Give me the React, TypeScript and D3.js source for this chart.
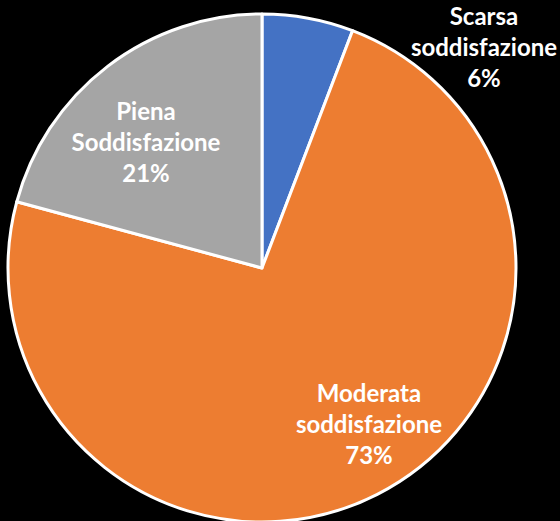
import { useRef, useEffect } from 'react';
import * as d3 from 'd3';

// slice data, clockwise from 12 o'clock
const categories = ['Scarsa soddisfazione', 'Moderata soddisfazione', 'Piena Soddisfazione'];
const labelLines = [
  ['Scarsa', 'soddisfazione'],
  ['Moderata', 'soddisfazione'],
  ['Piena', 'Soddisfazione'],
];
const values = [5.8, 73.4, 20.8];
const colors = ['#4472C4', '#ED7D31', '#A5A5A5'];

export default function App() {
  const svgRef = useRef<SVGSVGElement>(null);

  useEffect(() => {
    if (!svgRef.current) return;
    document.body.style.margin = '0';
    d3.select(svgRef.current).selectAll('*').remove();

    const width = 560;
    const height = 521;
    const cx = 262;
    const cy = 268;
    const radius = 254;

    const svg = d3.select(svgRef.current)
      .attr('width', width)
      .attr('height', height);

    svg.append('rect')
      .attr('width', width)
      .attr('height', height)
      .attr('fill', '#000000');

    const g = svg.append('g').attr('transform', `translate(${cx},${cy})`);

    const pie = d3.pie<number>().sort(null).value(d => d);
    const arcs = pie(values);
    const arc = d3.arc<d3.PieArcDatum<number>>().innerRadius(0).outerRadius(radius);

    g.selectAll('path.slice')
      .data(arcs)
      .enter()
      .append('path')
      .attr('class', 'slice')
      .attr('d', arc)
      .attr('fill', (_, i) => colors[i])
      .attr('stroke', '#ffffff')
      .attr('stroke-width', 3)
      .attr('stroke-linejoin', 'round');

    // label anchor points (first baseline of each block)
    const labelPos = [
      { x: 484, y: 25 },
      { x: 369, y: 402 },
      { x: 146, y: 120 },
    ];
    const lineGap = 31;

    categories.forEach((_, i) => {
      const t = svg.append('text')
        .attr('text-anchor', 'middle')
        .attr('fill', '#ffffff')
        .style('font-family', 'Lato, "Open Sans", sans-serif')
        .style('font-weight', 'bold')
        .style('font-size', '24px');
      const lines = [...labelLines[i], `${Math.round(values[i])}%`];
      lines.forEach((ln, j) => {
        t.append('tspan')
          .attr('x', labelPos[i].x)
          .attr('y', labelPos[i].y + j * lineGap)
          .text(ln);
      });
    });
  }, []);

  return <svg ref={svgRef} style={{ display: 'block' }} />;
}
